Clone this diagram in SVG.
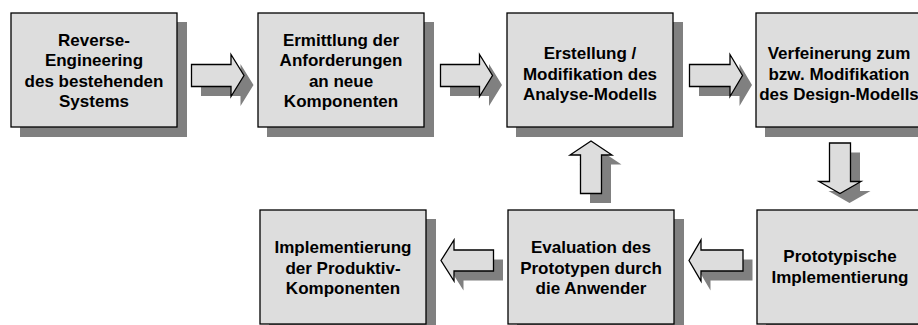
<svg xmlns="http://www.w3.org/2000/svg" width="918" height="325" viewBox="0 0 918 325">
<style>
.sh{fill:#808080;stroke:none}
.bx{fill:#dddddd;stroke:#000;stroke-width:1.3}
.ar{fill:#dddddd;stroke:#000;stroke-width:1.3;stroke-linejoin:miter}
text{font-family:"Liberation Sans",Arial,sans-serif;font-weight:bold;font-size:17px;text-anchor:middle;fill:#000}
</style>
<rect width="918" height="325" fill="#fff"/>
<g id="connectors">
  <g id="a1">
    <path class="sh" transform="translate(9.5,9.5)" d="M191.5,64.5 H231 V54.5 L244,75.5 L231,96.5 V86.5 H191.5 Z"/>
    <path class="ar" d="M191.5,64.5 H231 V54.5 L244,75.5 L231,96.5 V86.5 H191.5 Z"/>
  </g>
  <g id="a2">
    <path class="sh" transform="translate(9.5,9.5)" d="M440.5,64.5 H479.5 V54.5 L492.5,75.5 L479.5,96.5 V86.5 H440.5 Z"/>
    <path class="ar" d="M440.5,64.5 H479.5 V54.5 L492.5,75.5 L479.5,96.5 V86.5 H440.5 Z"/>
  </g>
  <g id="a3">
    <path class="sh" transform="translate(9.5,9.5)" d="M689.5,64.5 H730 V54.5 L742.5,75.5 L730,96.5 V86.5 H689.5 Z"/>
    <path class="ar" d="M689.5,64.5 H730 V54.5 L742.5,75.5 L730,96.5 V86.5 H689.5 Z"/>
  </g>
  <g id="a4">
    <path class="sh" transform="translate(9.5,9.5)" d="M829.5,143 V181.5 H819 L840,193.5 L861,181.5 H850.5 V143 Z"/>
    <path class="ar" d="M829.5,143 V181.5 H819 L840,193.5 L861,181.5 H850.5 V143 Z"/>
  </g>
  <g id="a5">
    <path class="sh" transform="translate(9.5,9.5)" d="M743,250 H701 V240 L689,260.5 L701,281 V271 H743 Z"/>
    <path class="ar" d="M743,250 H701 V240 L689,260.5 L701,281 V271 H743 Z"/>
  </g>
  <g id="a6">
    <path class="sh" transform="translate(9.5,9.5)" d="M493.5,250 H454 V240 L441,260.5 L454,281 V271 H493.5 Z"/>
    <path class="ar" d="M493.5,250 H454 V240 L441,260.5 L454,281 V271 H493.5 Z"/>
  </g>
  <g id="a7">
    <path class="sh" transform="translate(9.5,9.5)" d="M580.5,193.5 V155 H570 L591,141 L612,155 H601.5 V193.5 Z"/>
    <path class="ar" d="M580.5,193.5 V155 H570 L591,141 L612,155 H601.5 V193.5 Z"/>
  </g>
</g>
<g id="n1">
  <rect class="sh" x="20" y="22" width="167" height="115"/>
  <rect class="bx" x="11" y="13" width="166" height="114"/>
  <text x="94" y="45.5">Reverse-</text>
  <text x="94" y="66">Engineering</text>
  <text x="94" y="86.5">des bestehenden</text>
  <text x="94" y="107">Systems</text>
</g>
<g id="n2">
  <rect class="sh" x="267" y="22" width="167" height="115"/>
  <rect class="bx" x="258" y="13" width="166" height="114"/>
  <text x="341" y="45.5">Ermittlung der</text>
  <text x="341" y="66">Anforderungen</text>
  <text x="341" y="86.5">an neue</text>
  <text x="341" y="107">Komponenten</text>
</g>
<g id="n3">
  <rect class="sh" x="516" y="22" width="167" height="115"/>
  <rect class="bx" x="507" y="13" width="166" height="114"/>
  <text x="590" y="59">Erstellung /</text>
  <text x="590" y="79.5">Modifikation des</text>
  <text x="590" y="100">Analyse-Modells</text>
</g>
<g id="n4">
  <rect class="sh" x="765" y="22" width="167" height="115"/>
  <rect class="bx" x="756" y="13" width="166" height="114"/>
  <text x="839" y="59">Verfeinerung zum</text>
  <text x="839" y="79.5">bzw. Modifikation</text>
  <text x="839" y="100">des Design-Modells</text>
</g>
<g id="n5">
  <rect class="sh" x="269" y="219" width="167" height="115"/>
  <rect class="bx" x="260" y="210" width="166" height="114"/>
  <text x="343" y="253">Implementierung</text>
  <text x="343" y="273.5">der Produktiv-</text>
  <text x="343" y="294">Komponenten</text>
</g>
<g id="n6">
  <rect class="sh" x="517" y="219" width="167" height="115"/>
  <rect class="bx" x="508" y="210" width="166" height="114"/>
  <text x="591" y="253">Evaluation des</text>
  <text x="591" y="273.5">Prototypen durch</text>
  <text x="591" y="294">die Anwender</text>
</g>
<g id="n7">
  <rect class="sh" x="766" y="219" width="167" height="115"/>
  <rect class="bx" x="757" y="210" width="166" height="114"/>
  <text x="840" y="262">Prototypische</text>
  <text x="840" y="283">Implementierung</text>
</g>
</svg>
